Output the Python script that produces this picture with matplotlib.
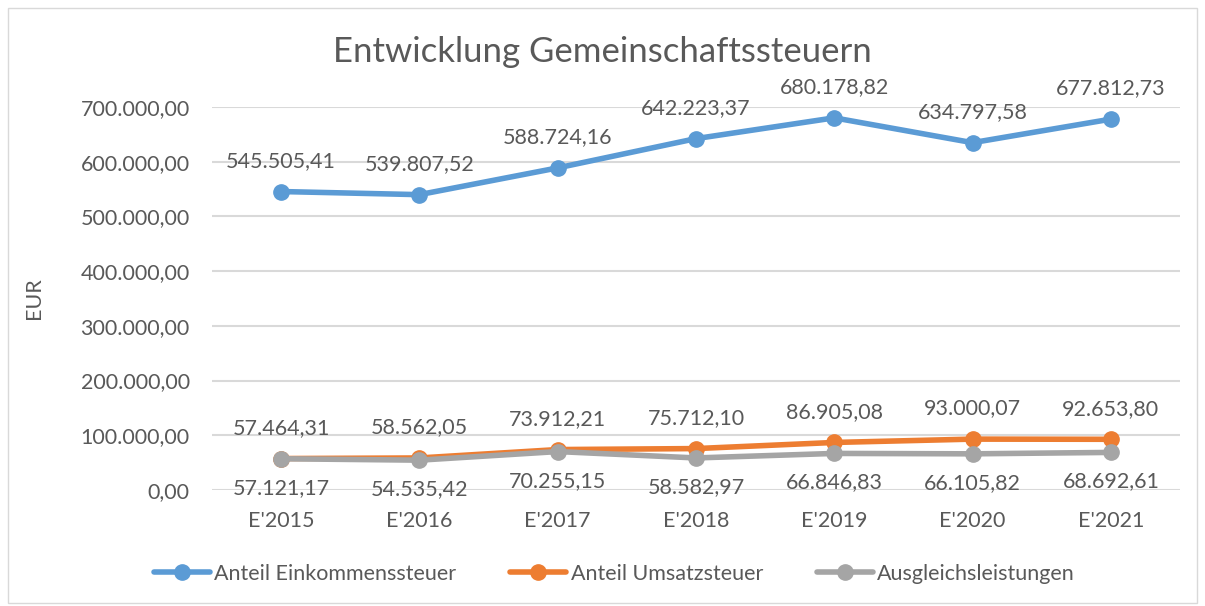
import matplotlib
matplotlib.use("Agg")
import matplotlib.pyplot as plt
from matplotlib.patches import Rectangle
from matplotlib.ticker import FuncFormatter

categories = ["E'2015", "E'2016", "E'2017", "E'2018", "E'2019", "E'2020", "E'2021"]
einkommen = [545505.41, 539807.52, 588724.16, 642223.37, 680178.82, 634797.58, 677812.73]
umsatz = [57464.31, 58562.05, 73912.21, 75712.10, 86905.08, 93000.07, 92653.80]
ausgleich = [57121.17, 54535.42, 70255.15, 58582.97, 66846.83, 66105.82, 68692.61]
series_names = ["Anteil Einkommenssteuer", "Anteil Umsatzsteuer", "Ausgleichsleistungen"]
colors = ["#5B9BD5", "#ED7D31", "#A5A5A5"]

plt.rcParams['font.family'] = ['Lato', 'DejaVu Sans']
txt = "#595959"
fs = 15.5

def de(v):
    s = f"{v:,.2f}"
    return s.replace(",", "X").replace(".", ",").replace("X", ".")

fig = plt.figure(figsize=(12.05, 6.06), dpi=100)
fig.patches.append(Rectangle((8/1205, 0.005), 1 - 16/1205, 1 - 8/606 - 0.005,
                             transform=fig.transFigure, fill=False,
                             edgecolor="#D9D9D9", linewidth=1))
ax = fig.add_axes([212/1205, 1 - 490/606, (1180 - 212)/1205, (490 - 107)/606])

x = list(range(len(categories)))
data = [einkommen, umsatz, ausgleich]
for i in range(3):
    ax.plot(x, data[i], color=colors[i], linewidth=4, marker='o', markersize=11,
            label=series_names[i], zorder=3 + i, solid_capstyle='round')

for xi, v in zip(x, einkommen):
    ax.annotate(de(v), (xi, v), xytext=(0, 22), textcoords='offset points',
                ha='center', va='center', fontsize=fs, color=txt)
for xi, v in zip(x, umsatz):
    ax.annotate(de(v), (xi, v), xytext=(0, 22), textcoords='offset points',
                ha='center', va='center', fontsize=fs, color=txt)
for xi, v in zip(x, ausgleich):
    ax.annotate(de(v), (xi, v), xytext=(0, -21), textcoords='offset points',
                ha='center', va='center', fontsize=fs, color=txt)

ax.set_xlim(-0.5, len(categories) - 0.5)
ax.set_ylim(0, 700000)
ax.set_yticks(range(0, 700001, 100000))
ax.yaxis.set_major_formatter(FuncFormatter(lambda v, p: de(v)))
ax.set_xticks(x)
ax.set_xticklabels(categories)
ax.tick_params(axis='both', length=0, labelsize=fs, labelcolor=txt)
ax.tick_params(axis='x', pad=15)
ax.tick_params(axis='y', pad=16)
ax.grid(axis='y', color="#D9D9D9", linewidth=1.5)
ax.set_axisbelow(True)
for s in ax.spines.values():
    s.set_visible(False)
ax.set_ylabel("EUR", fontsize=fs, color=txt, labelpad=26)

fig.text(0.5, 1 - 52/606, "Entwicklung Gemeinschaftssteuern", ha='center', va='center',
         fontsize=25, color=txt)

leg = fig.legend(loc='center', bbox_to_anchor=(0.51, 1 - 574/606), ncol=3, frameon=False,
                 fontsize=fs, handlelength=2.6, handletextpad=0.2, columnspacing=2.5,
                 labelcolor=txt)

fig.savefig("out.png", dpi=100)
